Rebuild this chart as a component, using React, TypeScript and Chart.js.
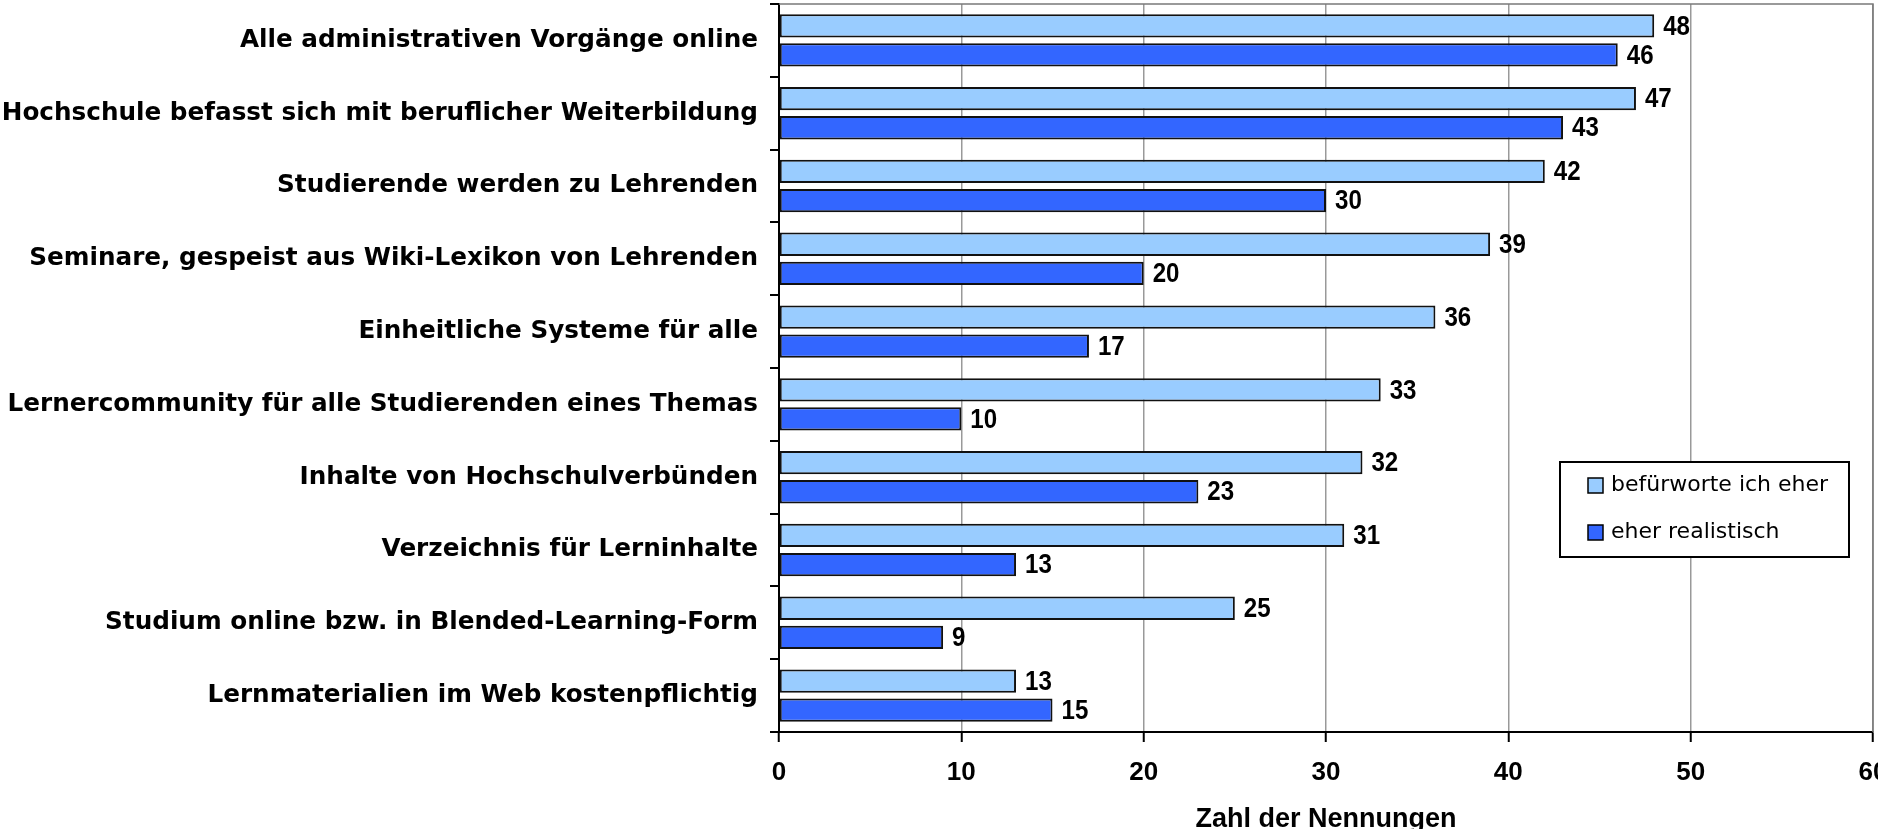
import { useEffect, useRef } from "react";
import { Chart, registerables } from "chart.js";

Chart.register(...registerables);

const categories = [
  "Alle administrativen Vorgänge online",
  "Hochschule befasst sich mit beruflicher Weiterbildung",
  "Studierende werden zu Lehrenden",
  "Seminare, gespeist aus Wiki-Lexikon von Lehrenden",
  "Einheitliche Systeme für alle",
  "Lernercommunity für alle Studierenden eines Themas",
  "Inhalte von Hochschulverbünden",
  "Verzeichnis für Lerninhalte",
  "Studium online bzw. in Blended-Learning-Form",
  "Lernmaterialien im Web kostenpflichtig",
];
const seriesNames = ["befürworte ich eher", "eher realistisch"];
const befuerworte = [48, 47, 42, 39, 36, 33, 32, 31, 25, 13];
const realistisch = [46, 43, 30, 20, 17, 10, 23, 13, 9, 15];
const xMin = 0;
const xMax = 60;
const xStep = 10;
const axisTitle = "Zahl der Nennungen";

const lightBlue = "#99CCFF";
const darkBlue = "#3366FF";

const W = 1878;
const H = 850;

const framePlugin = {
  id: "frame",
  beforeDatasetsDraw(chart: any) {
    const { ctx, chartArea } = chart;
    ctx.save();
    ctx.strokeStyle = "#7a7a7a";
    ctx.lineWidth = 1.5;
    ctx.beginPath();
    ctx.moveTo(chartArea.left, chartArea.top);
    ctx.lineTo(chartArea.right, chartArea.top);
    ctx.lineTo(chartArea.right, chartArea.bottom);
    ctx.stroke();
    ctx.restore();
  },
};

const valueLabelPlugin = {
  id: "valueLabels",
  afterDatasetsDraw(chart: any) {
    const { ctx } = chart;
    const sx = 0.86;
    chart.data.datasets.forEach((ds: any, i: number) => {
      const meta = chart.getDatasetMeta(i);
      meta.data.forEach((el: any, j: number) => {
        ctx.save();
        ctx.fillStyle = "#000";
        ctx.font = 'bold 28px "Liberation Sans", Arial, sans-serif';
        ctx.textAlign = "left";
        ctx.textBaseline = "middle";
        ctx.translate(el.x + 9, el.y + 1);
        ctx.scale(sx, 1);
        ctx.fillText(String(ds.data[j]), 0, 0);
        ctx.restore();
      });
    });
  },
};

const legendPlugin = {
  id: "boxLegend",
  afterDraw(chart: any) {
    const { ctx } = chart;
    const bx = 1560, by = 462, bw = 289, bh = 95;
    ctx.save();
    ctx.fillStyle = "#fff";
    ctx.fillRect(bx, by, bw, bh);
    ctx.strokeStyle = "#000";
    ctx.lineWidth = 2;
    ctx.strokeRect(bx, by, bw, bh);
    ctx.font = '22px "DejaVu Sans", Verdana, sans-serif';
    ctx.textBaseline = "middle";
    ctx.textAlign = "left";
    chart.data.datasets.forEach((ds: any, i: number) => {
      const cy = by + 23 + i * 47;
      ctx.fillStyle = ds.backgroundColor;
      ctx.fillRect(bx + 28, cy - 7, 15, 15);
      ctx.strokeStyle = "#000";
      ctx.lineWidth = 1.5;
      ctx.strokeRect(bx + 28, cy - 7, 15, 15);
      ctx.fillStyle = "#000";
      ctx.fillText(ds.label, bx + 51, cy);
    });
    ctx.restore();
  },
};

export default function App() {
  const ref = useRef<HTMLCanvasElement | null>(null);

  useEffect(() => {
    if (!ref.current) return;
    const chart = new Chart(ref.current, {
      type: "bar",
      data: {
        labels: categories,
        datasets: [
          {
            label: seriesNames[0],
            data: befuerworte,
            backgroundColor: lightBlue,
            borderColor: "#111",
            borderWidth: 2,
            borderSkipped: false,
            categoryPercentage: 0.8,
            barPercentage: 0.8,
          },
          {
            label: seriesNames[1],
            data: realistisch,
            backgroundColor: darkBlue,
            borderColor: "#111",
            borderWidth: 2,
            borderSkipped: false,
            categoryPercentage: 0.8,
            barPercentage: 0.8,
          },
        ],
      },
      options: {
        indexAxis: "y",
        animation: false,
        responsive: false,
        devicePixelRatio: 1,
        layout: { padding: { top: 4, right: 5, left: 0, bottom: 0 } },
        plugins: {
          legend: { display: false },
          tooltip: { enabled: false },
        },
        scales: {
          x: {
            type: "linear",
            min: xMin,
            max: xMax,
            ticks: {
              stepSize: xStep,
              color: "#000",
              padding: 15,
              font: {
                family: '"Liberation Sans", Arial, sans-serif',
                size: 26,
                weight: "bold",
              },
            },
            grid: {
              color: "#999999",
              lineWidth: 1.5,
              tickColor: "#000",
              tickLength: 10,
              tickWidth: 2,
            },
            border: { color: "#000", width: 2 },
            title: {
              display: true,
              text: axisTitle,
              color: "#000",
              padding: { top: 0, bottom: 14 },
              font: { family: '"Liberation Sans", Arial, sans-serif', size: 27, weight: "bold" },
            },
            afterFit(scale: any) {
              scale.height = H - 732;
              scale.paddingLeft = 0;
              scale.paddingRight = 0;
            },
          },
          y: {
            type: "category",
            ticks: {
              color: "#000",
              padding: 12,
              autoSkip: false,
              font: { family: '"DejaVu Sans", Verdana, sans-serif', size: 24.7, weight: "bold" },
            },
            grid: {
              drawOnChartArea: false,
              color: "#000",
              tickColor: "#000",
              tickLength: 9,
              lineWidth: 2,
              offset: true,
            },
            border: { color: "#000", width: 2 },
            afterFit(scale: any) {
              scale.width = 779;
              scale.paddingTop = 0;
              scale.paddingBottom = 0;
            },
          },
        },
      },
      plugins: [framePlugin, valueLabelPlugin, legendPlugin],
    } as any);
    return () => chart.destroy();
  }, []);

  return (
    <div
      style={{
        position: "fixed",
        left: 0,
        top: 0,
        width: W,
        height: 829,
        overflow: "hidden",
        background: "#fff",
      }}
    >
      <canvas ref={ref} width={W} height={H} style={{ display: "block", width: W, height: H }} />
    </div>
  );
}
